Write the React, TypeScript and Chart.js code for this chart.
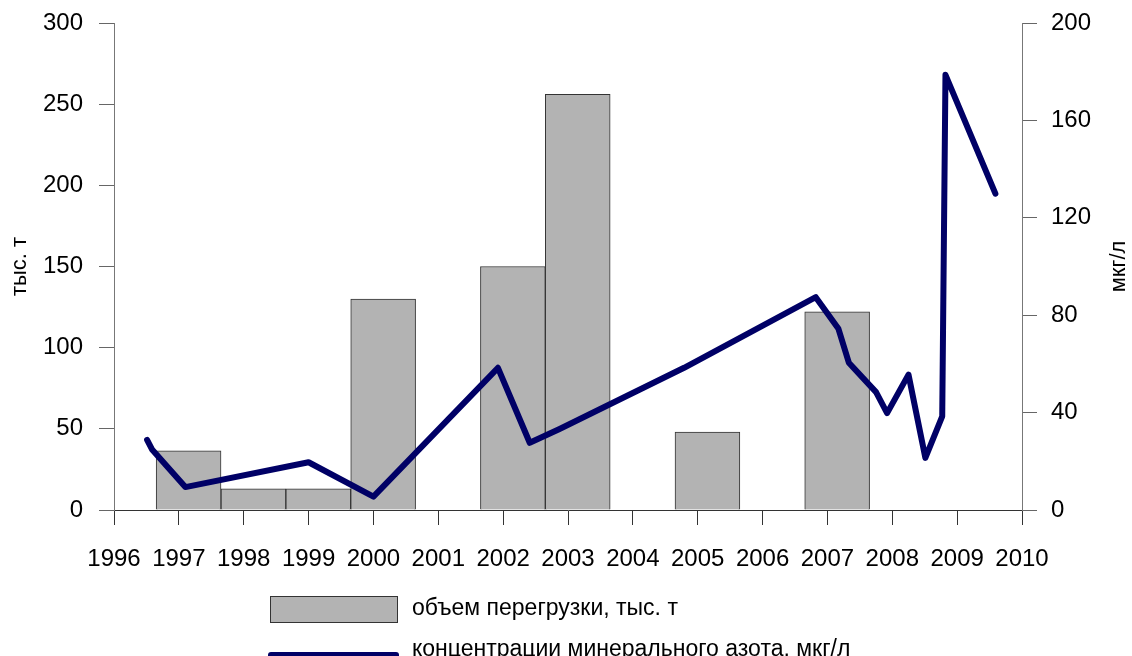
import React, { useEffect, useRef } from "react";
import { Chart, registerables } from "chart.js";

Chart.register(...registerables);

const barYears = [1997.15, 1998.15, 1999.15, 2000.15, 2002.15, 2003.15, 2005.15, 2007.15];
const barValues = [36.5, 13, 13, 130, 150, 256, 48, 122];

const lineYears = [1996.51, 1996.59, 1997.1, 1999.0, 2000.0, 2001.92, 2002.41, 2002.87, 2004.79, 2006.82, 2007.17, 2007.33, 2007.75, 2007.92, 2008.25, 2008.51, 2008.77, 2008.82, 2009.59];
const lineValues = [28.8, 24.7, 9.4, 19.6, 5.5, 58.4, 27.6, 33.3, 58.4, 87.4, 74.4, 60.5, 48.4, 39.8, 55.6, 21.4, 38.5, 178.7, 129.9];

const barLabel = "объем перегрузки, тыс. т";
const lineLabel = "концентрации минерального азота, мкг/л";
const leftTitle = "тыс. т";
const rightTitle = "мкг/л";

const FONT = "'Liberation Sans', Arial, sans-serif";
const BAR_FILL = "#b3b3b3";
const BAR_BORDER = "#333333";
const LINE_COLOR = "#000066";

const legendPlugin = {
  id: "customLegend",
  afterDraw(chart: any) {
    const ctx = chart.ctx;
    const area = chart.chartArea;
    const midY = (area.top + area.bottom) / 2;
    ctx.save();
    // axis titles
    ctx.font = `22px ${FONT}`;
    ctx.fillStyle = "#000";
    ctx.textAlign = "center";
    ctx.textBaseline = "middle";
    ctx.save();
    ctx.translate(20, midY);
    ctx.rotate(-Math.PI / 2);
    ctx.fillText(leftTitle, 0, 0);
    ctx.restore();
    ctx.save();
    ctx.translate(1119, midY);
    ctx.rotate(-Math.PI / 2);
    ctx.fillText(rightTitle, 0, 0);
    ctx.restore();
    // bar legend
    ctx.fillStyle = BAR_FILL;
    ctx.fillRect(270.5, 596.5, 127, 26);
    ctx.strokeStyle = BAR_BORDER;
    ctx.lineWidth = 1;
    ctx.strokeRect(270.5, 596.5, 127, 26);
    ctx.font = `23px ${FONT}`;
    ctx.fillStyle = "#000";
    ctx.textBaseline = "middle";
    ctx.textAlign = "left";
    ctx.fillText(chart.data.datasets[0].label, 412, 609);
    // line legend
    ctx.strokeStyle = LINE_COLOR;
    ctx.lineWidth = 6;
    ctx.lineCap = "round";
    ctx.beginPath();
    ctx.moveTo(271, 655);
    ctx.lineTo(396, 655);
    ctx.stroke();
    ctx.fillText(chart.data.datasets[1].label, 412, 650);
    ctx.restore();
  },
};

const noPad = (w: number) => (s: any) => {
  s.width = w;
  s.paddingTop = 0;
  s.paddingBottom = 0;
};

export default function App() {
  const ref = useRef<HTMLCanvasElement>(null);
  useEffect(() => {
    if (!ref.current) return;
    const chart = new Chart(ref.current, {
      type: "bar",
      data: {
        datasets: [
          {
            type: "bar",
            label: barLabel,
            data: barYears.map((x, i) => ({ x, y: barValues[i] })),
            backgroundColor: BAR_FILL,
            borderColor: BAR_BORDER,
            borderWidth: 1,
            barPercentage: 1,
            categoryPercentage: 1,
            xAxisID: "x",
            yAxisID: "y",
            order: 2,
          },
          {
            type: "line",
            label: lineLabel,
            data: lineYears.map((x, i) => ({ x, y: lineValues[i] })),
            borderColor: LINE_COLOR,
            backgroundColor: LINE_COLOR,
            borderWidth: 6,
            borderCapStyle: "round",
            borderJoinStyle: "round",
            pointRadius: 0,
            tension: 0,
            xAxisID: "x",
            yAxisID: "y1",
            order: 1,
          },
        ] as any,
      },
      options: {
        animation: false,
        responsive: false,
        maintainAspectRatio: false,
        layout: { padding: { top: 23, left: 0, right: 0, bottom: 0 } },
        plugins: {
          legend: { display: false },
          tooltip: { enabled: false },
        },
        scales: {
          x: {
            type: "linear",
            min: 1996,
            max: 2010,
            offset: false,
            ticks: {
              stepSize: 1,
              font: { family: FONT, size: 24 },
              color: "#000",
              padding: 20,
              maxRotation: 0,
              autoSkip: false,
              callback: (v: any) => String(v),
            },
            grid: {
              offset: false,
              drawOnChartArea: false,
              drawTicks: true,
              tickLength: 15,
              color: "#333",
            },
            border: { color: "#333", width: 1 },
            afterFit: (s: any) => {
              s.height = 146;
            },
          },
          y: {
            type: "linear",
            position: "left",
            min: 0,
            max: 300,
            ticks: {
              stepSize: 50,
              font: { family: FONT, size: 24 },
              color: "#000",
              padding: 16,
            },
            grid: {
              drawOnChartArea: false,
              tickLength: 15,
              color: "#666",
            },
            border: { color: "#777", width: 1 },
            afterFit: noPad(114),
          },
          y1: {
            type: "linear",
            position: "right",
            min: 0,
            max: 200,
            ticks: {
              stepSize: 40,
              font: { family: FONT, size: 24 },
              color: "#000",
              padding: 14,
            },
            grid: {
              drawOnChartArea: false,
              tickLength: 15,
              color: "#666",
            },
            border: { color: "#777", width: 1 },
            afterFit: noPad(110),
          },
        },
      } as any,
      plugins: [legendPlugin],
    });
    return () => chart.destroy();
  }, []);
  return (
    <div style={{ position: "fixed", left: 0, top: 0, width: 1132, height: 656, background: "#fff" }}>
      <canvas ref={ref} width={1132} height={656} style={{ display: "block" }} />
    </div>
  );
}
